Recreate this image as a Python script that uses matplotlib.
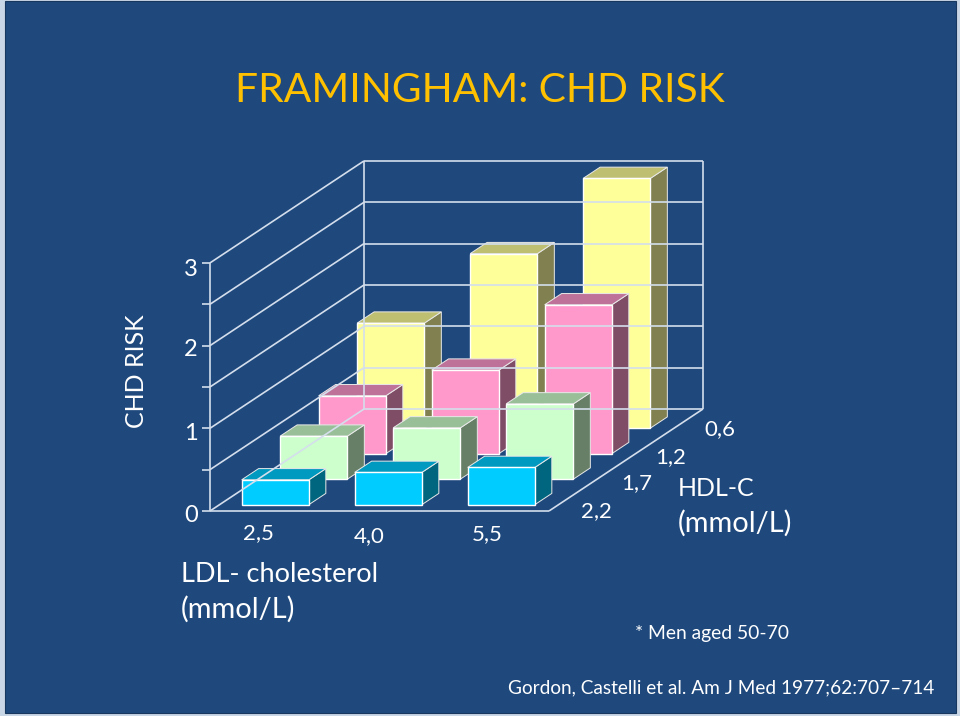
import matplotlib
matplotlib.use('Agg')
import matplotlib.pyplot as plt
from matplotlib.patches import Polygon, Rectangle

plt.rcParams['font.family'] = ['Lato', 'DejaVu Sans']

# chart values
ldl_labels = ['2,5', '4,0', '5,5']
hdl_labels = ['2,2', '1,7', '1,2', '0,6']
y_labels = ['0', '1', '2', '3']
y_gridlines = [0.5, 1.0, 1.5, 2.0, 2.5, 3.0]

risk_hdl_22 = [0.30, 0.39, 0.45]
risk_hdl_17 = [0.52, 0.62, 0.91]
risk_hdl_12 = [0.70, 1.01, 1.80]
risk_hdl_06 = [1.27, 2.11, 3.02]

BG = '#1F497D'
LINE = '#D4DEEC'

# bar colours per row: front, top, side
row_colors = [
    ('#00CCFF', '#0099BF', '#006680'),
    ('#CCFFCC', '#99BF99', '#667F66'),
    ('#FF99CC', '#BF7299', '#804D66'),
    ('#FFFF99', '#BFBF72', '#808050'),
]

# oblique projection of the 3d box onto figure pixels
ORIGIN = (210, 511)
WIDTH = 339
DEPTH = (154, -102)
UNIT = 82.7


def project(x, z, v):
    # x in categories, z in rows, v in risk units
    px = ORIGIN[0] + x / 3 * WIDTH + z / 4 * DEPTH[0]
    py = ORIGIN[1] + z / 4 * DEPTH[1] - v * UNIT
    return px, py


def draw_bar(ax, i, row, value, colors):
    front, top, side = colors
    x0, x1 = i + 0.195, i + 0.79
    z0, z1 = row + 0.25, row + 0.69
    face = [project(x0, z0, 0), project(x1, z0, 0), project(x1, z0, value), project(x0, z0, value)]
    roof = [project(x0, z0, value), project(x1, z0, value), project(x1, z1, value), project(x0, z1, value)]
    wall = [project(x1, z0, 0), project(x1, z1, 0), project(x1, z1, value), project(x1, z0, value)]
    ax.add_patch(Polygon(wall, closed=True, facecolor=side, edgecolor='#E8E8E8', linewidth=0.7))
    ax.add_patch(Polygon(roof, closed=True, facecolor=top, edgecolor='#E8E8E8', linewidth=0.7))
    ax.add_patch(Polygon(face, closed=True, facecolor=front, edgecolor='white', linewidth=1.0))


def line(ax, a, b, lw=1.2):
    ax.plot([a[0], b[0]], [a[1], b[1]], color=LINE, linewidth=lw, solid_capstyle='butt')


fig = plt.figure(figsize=(9.6, 7.16), dpi=100, facecolor='#C9D6E6')
ax = fig.add_axes([0, 0, 1, 1])
ax.set_xlim(0, 960)
ax.set_ylim(716, 0)
ax.axis('off')

ax.add_patch(Rectangle((5, 1), 951, 712, facecolor=BG, edgecolor='#17375E', linewidth=0.8))

# walls and floor
line(ax, project(0, 0, 0), project(3, 0, 0))
line(ax, project(0, 0, 0), project(0, 4, 0))
line(ax, project(3, 0, 0), project(3, 4, 0))
line(ax, project(0, 4, 0), project(3, 4, 0))
line(ax, project(0, 0, 0), project(0, 0, 3))
line(ax, project(0, 4, 0), project(0, 4, 3))
line(ax, project(3, 4, 0), project(3, 4, 3))
for v in y_gridlines:
    line(ax, project(0, 0, v), project(0, 4, v))
    line(ax, project(0, 4, v), project(3, 4, v))
for v in [0.0] + y_gridlines:
    a = project(0, 0, v)
    line(ax, (a[0] - 8, a[1]), a)

# back row first so the front rows cover it
rows = [risk_hdl_22, risk_hdl_17, risk_hdl_12, risk_hdl_06]
for row in range(3, -1, -1):
    for i, value in enumerate(rows[row]):
        draw_bar(ax, i, row, value, row_colors[row])

# tick labels
for label, y in zip(y_labels, [516, 433, 350, 270]):
    ax.text(191, y, label, color='white', fontsize=17, ha='center', va='center')
for label, x, y in zip(ldl_labels, [258, 369, 487], [533, 536, 534]):
    ax.text(x, y, label, color='white', fontsize=16, ha='center', va='center')
for label, x, y in zip(hdl_labels, [596, 637, 671, 720], [511, 483, 457, 429]):
    ax.text(x, y, label, color='white', fontsize=16, ha='center', va='center')

# titles and notes
ax.text(480, 90, 'FRAMINGHAM: CHD RISK', color='#FFC000', fontsize=29.3, ha='center', va='center')
ax.text(136, 371, 'CHD RISK', color='white', fontsize=18, rotation=90, ha='center', va='center')
ax.text(181, 575, 'LDL- cholesterol', color='white', fontsize=19.5, ha='left', va='center')
ax.text(181, 609, '(mmol/L)', color='white', fontsize=20.9, ha='left', va='center')
ax.text(678, 489, 'HDL-C', color='white', fontsize=18, ha='left', va='center')
ax.text(678, 523, '(mmol/L)', color='white', fontsize=20.9, ha='left', va='center')
ax.text(635, 633, '* Men aged 50-70', color='white', fontsize=13.9, ha='left', va='center')
ax.text(508, 688, 'Gordon, Castelli et al. Am J Med 1977;62:707–714', color='white', fontsize=13.7, ha='left', va='center')

fig.savefig('out.png', dpi=100, facecolor=fig.get_facecolor())
